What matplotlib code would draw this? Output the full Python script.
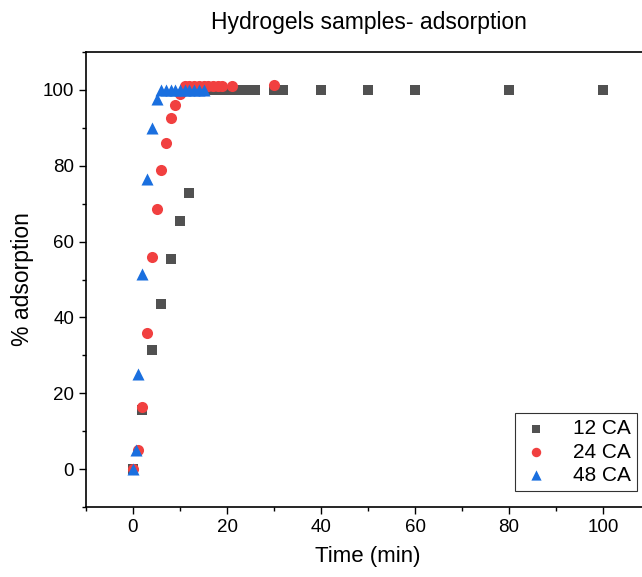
import matplotlib
matplotlib.use("Agg")
import matplotlib.pyplot as plt
from matplotlib.ticker import MultipleLocator

plt.rcParams['font.family'] = ['Liberation Sans', 'DejaVu Sans']

# 12 CA
t12 = [0, 2, 4, 6, 8, 10, 12, 14, 15, 16, 17, 18, 19, 20, 21, 22, 23, 24, 25, 26, 30, 32, 40, 50, 60, 80, 100]
a12 = [0, 15.6, 31.5, 43.5, 55.5, 65.4, 72.8, 100, 100, 100, 100, 100, 100, 100, 100, 100, 100, 100, 100, 100,
       100, 100, 100, 100, 100, 100, 100]

# 24 CA
t24 = [0, 1, 2, 3, 4, 5, 6, 7, 8, 9, 10, 11, 12, 13, 14, 15, 16, 17, 18, 19, 21, 30]
a24 = [0, 5, 16.5, 36, 56, 68.5, 79, 86, 92.6, 96, 99, 101, 101, 101, 101, 101, 101, 101, 101, 101, 101, 101.2]

# 48 CA
t48 = [0, 0.6, 1, 2, 3, 4, 5, 6, 7, 8, 9, 10, 11, 12, 13, 14, 15]
a48 = [0, 5, 25, 51.5, 76.5, 90, 97.5, 100, 100, 100, 100, 100, 100, 100, 100, 100, 100]

fig = plt.figure(figsize=(6.42, 5.77), dpi=100)
ax = fig.add_axes([86 / 642, 70 / 577, 564 / 642, 455 / 577])

ax.scatter(t12, a12, marker='s', s=45, color='#515151', label='12 CA', zorder=3, linewidths=0)
ax.scatter(t24, a24, marker='o', s=64, color='#F14040', label='24 CA', zorder=4, linewidths=0)
ax.scatter(t48, a48, marker='^', s=75, color='#1A6FDF', label='48 CA', zorder=5, linewidths=0)

ax.set_xlim(-10, 110)
ax.set_ylim(-10, 110)
ax.xaxis.set_major_locator(MultipleLocator(20))
ax.xaxis.set_minor_locator(MultipleLocator(10))
ax.yaxis.set_major_locator(MultipleLocator(20))
ax.yaxis.set_minor_locator(MultipleLocator(10))
ax.tick_params(which='major', direction='out', length=5, width=1, labelsize=13.5, colors='black')
ax.tick_params(which='minor', direction='out', length=3, width=1)
for sp in ax.spines.values():
    sp.set_linewidth(1.2)

ax.set_xlabel('Time (min)', fontsize=16, labelpad=7)
ax.set_ylabel('% adsorption', fontsize=16.5, labelpad=6)
fig.text(369 / 642, 1 - 22 / 577, 'Hydrogels samples- adsorption', ha='center', va='center', fontsize=16.5)

leg = ax.legend(loc='lower right', bbox_to_anchor=(637 / 642, 86 / 577), bbox_transform=fig.transFigure,
                borderaxespad=0, fontsize=15, frameon=True, fancybox=False, edgecolor='black', borderpad=0.3,
                handletextpad=1.0, labelspacing=0.2, handlelength=1.5, markerscale=0.85)
leg.get_frame().set_linewidth(0.8)

fig.savefig('out.png', dpi=100)
